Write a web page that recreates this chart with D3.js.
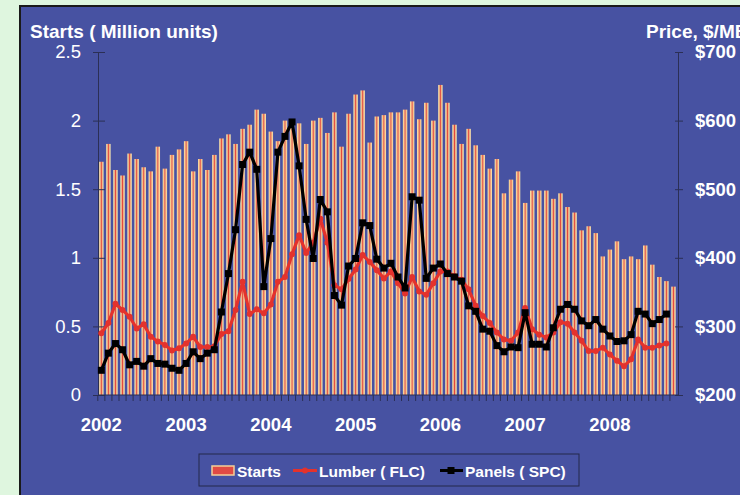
<!DOCTYPE html>
<html>
<head>
<meta charset="utf-8">
<script src="https://cdn.jsdelivr.net/npm/d3@7/dist/d3.min.js"></script>
<style>
  body { margin: 0; background: #dff6df; }
  svg { display: block; font-family: "Liberation Sans", Arial, sans-serif; }
</style>
</head>
<body>
<script>
// monthly housing starts, Jan 2002 - Oct 2008 (million units)
var starts = [
  1.70, 1.83, 1.64, 1.60, 1.76, 1.72, 1.66, 1.63, 1.81, 1.65, 1.75, 1.79,
  1.85, 1.63, 1.72, 1.64, 1.75, 1.87, 1.90, 1.83, 1.94, 1.97, 2.08, 2.05,
  1.92, 1.85, 2.00, 2.00, 1.98, 1.83, 2.00, 2.02, 1.91, 2.06, 1.81, 2.05,
  2.19, 2.22, 1.84, 2.03, 2.04, 2.06, 2.06, 2.08, 2.14, 2.01, 2.13, 2.00,
  2.26, 2.13, 1.97, 1.83, 1.94, 1.82, 1.75, 1.65, 1.72, 1.47, 1.57, 1.63,
  1.40, 1.49, 1.49, 1.49, 1.43, 1.47, 1.37, 1.33, 1.20, 1.23, 1.18, 1.01,
  1.06, 1.12, 0.99, 1.01, 0.99, 1.09, 0.95, 0.86, 0.83, 0.79
];
// lumber price, $/MBF
var lumber = [
  290, 305, 333, 324, 314, 297, 303, 285, 278, 273, 265, 268,
  275, 285, 270, 270, 271, 289, 293, 324, 365, 318, 325, 319,
  332, 365, 372, 405, 433, 407, 422, 457, 422, 360, 354, 369,
  383, 404, 394, 382, 370, 380, 363, 348, 372, 351, 346, 363,
  380, 380, 373, 368, 354, 330, 315, 305, 291, 281, 279, 291,
  327, 296, 288, 284, 291, 306, 304, 291, 279, 264, 264, 269,
  259, 250, 242, 252, 281, 269, 269, 272, 275
];
// panel price
var panels = [
  236, 261, 275, 266, 244, 249, 242, 253, 246, 245, 239, 236,
  246, 263, 253, 261, 266, 321, 377, 441, 536, 554, 529, 358,
  428, 554, 577, 598, 534, 456, 399, 485, 467, 345, 331, 388,
  399, 451, 447, 398, 385, 392, 372, 356, 489, 484, 370, 385,
  391, 377, 372, 366, 330, 322, 296, 293, 272, 263, 270, 269,
  320, 274, 274, 270, 298, 325, 332, 325, 308, 301, 310, 296,
  286, 278, 279, 288, 322, 318, 304, 310, 318
];
var years = ['2002', '2003', '2004', '2005', '2006', '2007', '2008'];
var monthNames = ['Jan', 'Feb', 'Mar', 'Apr', 'May', 'Jun', 'Jul', 'Aug', 'Sep', 'Oct', 'Nov', 'Dec'];
var leftTicks = [0, 0.5, 1, 1.5, 2, 2.5];
var rightTicks = [200, 300, 400, 500, 600, 700];

// one category per month
var months = years.flatMap(function(y) {
  return monthNames.map(function(m) { return m + ' ' + y; });
}).slice(0, starts.length);

var W = 740, H = 495;
var blue = '#4752a2';

var svg = d3.select('body').append('svg')
    .attr('width', W)
    .attr('height', H);

// bar gradient: pale edge, salmon, red core
var grad = svg.append('defs').append('linearGradient')
    .attr('id', 'barfill')
    .attr('x1', '0%').attr('x2', '100%').attr('y1', '0%').attr('y2', '0%');
[['0%', '#fff2b8'], ['18%', '#f6c890'], ['35%', '#eea07a'], ['50%', '#e2473e'],
 ['65%', '#eea07a'], ['82%', '#f6c890'], ['100%', '#fff2b8']].forEach(function(s) {
  grad.append('stop').attr('offset', s[0]).attr('stop-color', s[1]);
});

// panel
svg.append('rect')
    .attr('x', 20).attr('y', 6)
    .attr('width', W).attr('height', H)
    .attr('fill', blue)
    .attr('stroke', '#1a1a1a')
    .attr('stroke-width', 2);

var x = d3.scaleBand()
    .domain(months)
    .range([97.8, 677])
    .paddingInner(0.38)
    .paddingOuter(0.19);

var yL = d3.scaleLinear().domain([0, 2.5]).range([395, 52]);
var yR = d3.scaleLinear().domain([200, 700]).range([395, 52]);

// bars
svg.append('g')
  .selectAll('rect')
  .data(starts)
  .enter().append('rect')
    .attr('x', function(d, i) { return x(months[i]); })
    .attr('y', function(d) { return yL(d); })
    .attr('width', x.bandwidth())
    .attr('height', function(d) { return yL(0) - yL(d); })
    .attr('fill', 'url(#barfill)');

// axes
var axisColor = '#2b2f55';

var gl = svg.append('g')
    .attr('transform', 'translate(98,0)')
    .call(d3.axisLeft(yL).tickValues(leftTicks).tickSize(5).tickPadding(12).tickFormat(d3.format('')));
gl.selectAll('.tick line').attr('x1', 7);

var gr = svg.append('g')
    .attr('transform', 'translate(678,0)')
    .call(d3.axisRight(yR).tickValues(rightTicks).tickSize(5).tickPadding(12)
      .tickFormat(function(d) { return '$' + d; }));
gr.selectAll('.tick line').attr('x1', -3);

var gb = svg.append('g')
    .attr('transform', 'translate(0,395)')
    .call(d3.axisBottom(x)
      .tickValues(months.filter(function(m) { return m.indexOf('Jan') === 0; }))
      .tickSize(0).tickPadding(23)
      .tickFormat(function(m) { return m.slice(4); }));
gb.select('.domain').remove();

// month ticks under the x axis
svg.append('g')
  .selectAll('line')
  .data(months)
  .enter().append('line')
    .attr('x1', function(m) { return x(m) - x.step() * x.paddingInner() / 2; })
    .attr('x2', function(m) { return x(m) - x.step() * x.paddingInner() / 2; })
    .attr('y1', 395).attr('y2', 401)
    .attr('stroke', axisColor);

svg.append('line')
    .attr('x1', 98).attr('x2', 678)
    .attr('y1', 395).attr('y2', 395)
    .attr('stroke', axisColor);

[gl, gr, gb].forEach(function(g) {
  g.select('.domain').attr('stroke', axisColor);
  g.selectAll('.tick line').attr('stroke', axisColor);
  g.selectAll('text')
    .attr('fill', '#fff')
    .style('font-size', '18.5px')
    .style('font-family', '"Liberation Sans", Arial, sans-serif');
});
gr.selectAll('text').style('font-weight', 'bold');
gb.selectAll('text').style('font-weight', 'bold');

// lines
var red = '#e4322c';
var lineL = d3.line()
    .x(function(d, i) { return x(months[i]) + x.bandwidth() / 2; })
    .y(function(d) { return yR(d); });

svg.append('path')
    .datum(lumber)
    .attr('d', lineL)
    .attr('fill', 'none')
    .attr('stroke', red)
    .attr('stroke-width', 3.2)
    .attr('stroke-linejoin', 'round');

svg.append('g')
  .selectAll('circle')
  .data(lumber)
  .enter().append('circle')
    .attr('cx', function(d, i) { return x(months[i]) + x.bandwidth() / 2; })
    .attr('cy', function(d) { return yR(d); })
    .attr('r', 3)
    .attr('fill', red);

svg.append('path')
    .datum(panels)
    .attr('d', lineL)
    .attr('fill', 'none')
    .attr('stroke', '#000')
    .attr('stroke-width', 3.2)
    .attr('stroke-linejoin', 'round');

svg.append('g')
  .selectAll('rect')
  .data(panels)
  .enter().append('rect')
    .attr('x', function(d, i) { return x(months[i]) + x.bandwidth() / 2 - 3.5; })
    .attr('y', function(d) { return yR(d) - 3.5; })
    .attr('width', 7)
    .attr('height', 7)
    .attr('fill', '#000');

// axis titles
svg.append('text')
    .attr('x', 30).attr('y', 37.5)
    .attr('fill', '#fff')
    .style('font-size', '19px')
    .style('font-weight', 'bold')
    .text('Starts ( Million units)');

svg.append('text')
    .attr('x', 646).attr('y', 37.5)
    .attr('fill', '#fff')
    .style('font-size', '19px')
    .style('font-weight', 'bold')
    .text('Price, $/MBF');

// legend
var lg = svg.append('g');
lg.append('rect')
    .attr('x', 199).attr('y', 454)
    .attr('width', 380).attr('height', 32)
    .attr('fill', 'none')
    .attr('stroke', '#24284a');

lg.append('rect')
    .attr('x', 212).attr('y', 466)
    .attr('width', 22).attr('height', 9)
    .attr('fill', '#e04a44')
    .attr('stroke', '#f3cf98')
    .attr('stroke-width', 1.5);

lg.append('line')
    .attr('x1', 293).attr('x2', 317).attr('y1', 470.5).attr('y2', 470.5)
    .attr('stroke', red).attr('stroke-width', 3);
lg.append('circle').attr('cx', 305).attr('cy', 470.5).attr('r', 3).attr('fill', red);

lg.append('line')
    .attr('x1', 440).attr('x2', 463).attr('y1', 470.5).attr('y2', 470.5)
    .attr('stroke', '#000').attr('stroke-width', 3);
lg.append('rect').attr('x', 447.5).attr('y', 467).attr('width', 7).attr('height', 7).attr('fill', '#000');

[['Starts', 237], ['Lumber ( FLC)', 319], ['Panels ( SPC)', 465]].forEach(function(t) {
  lg.append('text')
      .attr('x', t[1]).attr('y', 476.5)
      .attr('fill', '#fff')
      .style('font-size', '15.5px')
      .style('font-weight', 'bold')
      .text(t[0]);
});
</script>
</body>
</html>
